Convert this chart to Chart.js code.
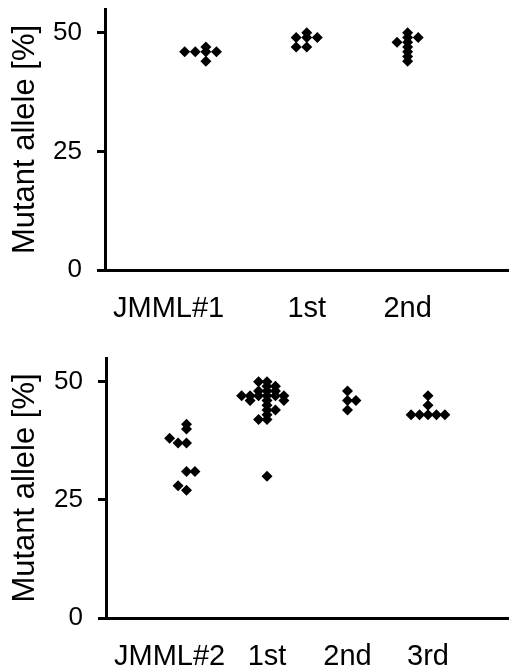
<!DOCTYPE html>
<html>
<head>
<meta charset="utf-8">
<script src="https://cdn.jsdelivr.net/npm/chart.js@4/dist/chart.umd.min.js"></script>
<style>
  html, body { margin: 0; padding: 0; background: #fff; }
  canvas { display: block; }
</style>
</head>
<body>
<canvas id="top" width="514" height="330"></canvas>
<canvas id="bottom" width="514" height="341"></canvas>
<script>
const yTicks = [0, 25, 50];
const yTitle = "Mutant allele [%]";

// patient 1: diagnosis and two follow-ups
const topCategories = ["JMML#1", "1st", "2nd"];
const topValues = [
  [46, 46, 46, 46, 47, 44],
  [50, 49, 49, 49, 47, 47],
  [50, 49, 48, 47, 46, 45, 44, 48, 49]
];
// horizontal spread of each point (in marker widths)
const topSpread = [
  [-2, -1, 0, 1, 0, 0],
  [0, 0, -1, 1, 0, -1],
  [0, 0, 0, 0, 0, 0, 0, -1, 1]
];

// patient 2: diagnosis and three follow-ups
const bottomCategories = ["JMML#2", "1st", "2nd", "3rd"];
const bottomValues = [
  [41, 40, 38, 37, 37, 31, 31, 28, 27],
  [50, 50, 49, 49, 48, 48, 48, 47, 47, 47, 47, 47, 47, 46, 46, 46, 45, 44, 44, 43, 42, 42, 30],
  [48, 46, 46, 44],
  [47, 45, 43, 43, 43, 43, 43]
];
const bottomSpread = [
  [0, 0, -2, -1, 0, 0, 1, -1, 0],
  [-1, 0, 0, 1, -1, 0, 1, -3, -2, -1, 0, 1, 2, -2, 0, 2, 0, 0, 1, 0, -1, 0, 0],
  [0, 0, 1, 0],
  [0, 0, -2, -1, 0, 1, 2]
];

const SLOT = 0.105;
const FONT = '"Liberation Sans", Arial, Helvetica, sans-serif';
Chart.defaults.font.family = FONT;
Chart.defaults.color = "#000";

function toPoints(values, spread) {
  return values.flatMap((group, i) =>
    group.map((v, j) => ({ x: i + 1 + spread[i][j] * SLOT, y: v }))
  );
}

const categoryLabels = {
  id: "categoryLabels",
  afterDraw(chart, args, opts) {
    const { ctx, chartArea, scales } = chart;
    const y = chartArea.bottom + 39;
    ctx.save();
    ctx.font = `29px ${FONT}`;
    ctx.fillStyle = "#000";
    ctx.textBaseline = "middle";
    opts.labels.forEach((label, i) => {
      if (i === 0) {
        ctx.textAlign = "left";
        ctx.fillText(label, chartArea.left + 8, y);
      } else {
        ctx.textAlign = "center";
        ctx.fillText(label, scales.x.getPixelForValue(i + 1), y);
      }
    });
    ctx.restore();
  }
};

function makeChart(canvas, categories, values, spread, layout) {
  return new Chart(canvas, {
    type: "scatter",
    data: {
      datasets: [{
        data: toPoints(values, spread),
        pointStyle: "rectRot",
        pointRadius: 5.5,
        pointBorderWidth: 0,
        backgroundColor: "#000",
        borderColor: "#000"
      }]
    },
    options: {
      responsive: false,
      animation: false,
      events: [],
      layout: { padding: { top: layout.top, left: 0, right: 0, bottom: 0 } },
      plugins: {
        legend: { display: false },
        tooltip: { enabled: false },
        categoryLabels: { labels: categories }
      },
      scales: {
        x: {
          type: "linear",
          min: 0,
          max: categories.length + 1,
          ticks: { display: false },
          grid: { display: false },
          border: { color: "#000", width: 3 },
          afterFit: (scale) => { scale.height = layout.xHeight; }
        },
        y: {
          min: 0,
          max: 55,
          afterBuildTicks: (scale) => { scale.ticks = yTicks.map((v) => ({ value: v })); },
          ticks: { font: { size: 26 }, color: "#000", padding: 15 },
          grid: { drawOnChartArea: false, tickLength: 8, tickWidth: 3, tickColor: "#000" },
          border: { color: "#000", width: 3 },
          title: { display: true, text: yTitle, color: "#000", font: { size: 31 }, padding: { top: 7, bottom: 0 } },
          afterFit: (scale) => {
            scale.width = layout.yWidth;
            scale.paddingTop = 0;
            scale.paddingBottom = 0;
          }
        }
      }
    },
    plugins: [categoryLabels]
  });
}

makeChart(document.getElementById("top"), topCategories, topValues, topSpread, { top: 9, xHeight: 60, yWidth: 105 });
makeChart(document.getElementById("bottom"), bottomCategories, bottomValues, bottomSpread, { top: 28, xHeight: 53, yWidth: 106 });
</script>
</body>
</html>
